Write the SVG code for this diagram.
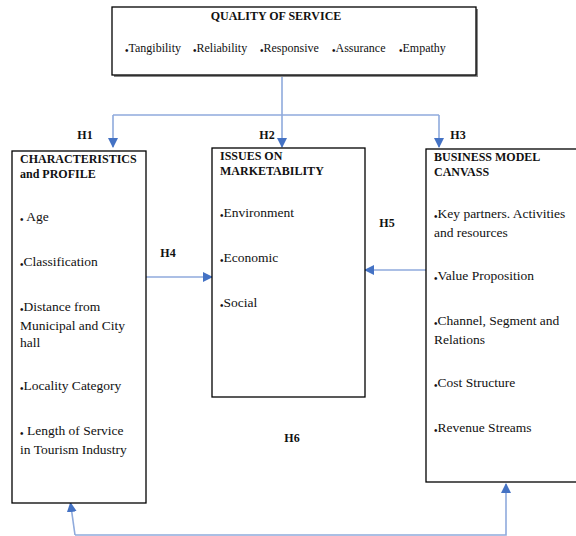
<svg xmlns="http://www.w3.org/2000/svg" width="576" height="536" viewBox="0 0 576 536">
<style>
.box{fill:#fff;stroke:#000;stroke-width:1.3}
.t{font-family:"Liberation Serif","Times New Roman",serif;font-size:13.5px;fill:#111}
.s{font-family:"Liberation Serif","Times New Roman",serif;font-size:12px;fill:#111}
.b{font-family:"Liberation Serif","Times New Roman",serif;font-size:12px;font-weight:bold;fill:#111}
.bu{font-size:10px;font-weight:bold}
.c{fill:none;stroke:#8FAADC;stroke-width:1.6}
</style>
<defs>
<marker id="ah" markerWidth="10" markerHeight="10" refX="9" refY="5" orient="auto" markerUnits="userSpaceOnUse">
<path d="M0,0 L10,5 L0,10 Z" fill="#4472C4"/>
</marker>
</defs>
<rect width="576" height="536" fill="#fff"/>
<g id="connectors">
<path class="c" d="M282,75 V115"/>
<path class="c" d="M113,115 H439"/>
<path class="c" d="M113,115 V147" marker-end="url(#ah)"/>
<path class="c" d="M282,115 V147" marker-end="url(#ah)"/>
<path class="c" d="M439,115 V147" marker-end="url(#ah)"/>
<path class="c" d="M146,277 H212" marker-end="url(#ah)"/>
<path class="c" d="M426,270 H365" marker-end="url(#ah)"/>
<path class="c" d="M75,535 L70.5,503" marker-end="url(#ah)"/>
<path class="c" d="M75,535 H506 V484" marker-end="url(#ah)"/>
</g>
<g id="quality">
<rect x="114" y="9" width="364" height="68" fill="#888"/>
<rect class="box" x="112" y="7" width="364" height="68"/>
<text class="b" x="276" y="20" text-anchor="middle">QUALITY OF SERVICE</text>
<text class="s" y="52"><tspan class="bu" x="125" dy="1.5">•</tspan><tspan dy="-1.5">Tangibility</tspan><tspan class="bu" x="193" dy="1.5">•</tspan><tspan dy="-1.5">Reliability</tspan><tspan class="bu" x="260" dy="1.5">•</tspan><tspan dy="-1.5">Responsive</tspan><tspan class="bu" x="332" dy="1.5">•</tspan><tspan dy="-1.5">Assurance</tspan><tspan class="bu" x="399" dy="1.5">•</tspan><tspan dy="-1.5">Empathy</tspan></text>
</g>
<g id="characteristics">
<rect class="box" x="12" y="151" width="134" height="352"/>
<text class="b" x="20" y="163">CHARACTERISTICS</text>
<text class="b" x="20" y="178">and PROFILE</text>
<text class="t" x="20" y="221"><tspan class="bu" dy="1.5">•</tspan><tspan dy="-1.5"> Age</tspan></text>
<text class="t" x="20" y="266"><tspan class="bu" dy="1.5">•</tspan><tspan dy="-1.5">Classification</tspan></text>
<text class="t" x="20" y="311"><tspan class="bu" dy="1.5">•</tspan><tspan dy="-1.5">Distance from</tspan></text>
<text class="t" x="20" y="330">Municipal and City</text>
<text class="t" x="20" y="347">hall</text>
<text class="t" x="20" y="390"><tspan class="bu" dy="1.5">•</tspan><tspan dy="-1.5">Locality Category</tspan></text>
<text class="t" x="20" y="435"><tspan class="bu" dy="1.5">•</tspan><tspan dy="-1.5">  Length of Service</tspan></text>
<text class="t" x="20" y="454">in Tourism Industry</text>
</g>
<g id="issues">
<rect class="box" x="212" y="148" width="153" height="249"/>
<text class="b" x="220" y="160">ISSUES ON</text>
<text class="b" x="220" y="175">MARKETABILITY</text>
<text class="t" x="220" y="217"><tspan class="bu" dy="1.5">•</tspan><tspan dy="-1.5">Environment</tspan></text>
<text class="t" x="220" y="262"><tspan class="bu" dy="1.5">•</tspan><tspan dy="-1.5">Economic</tspan></text>
<text class="t" x="220" y="307"><tspan class="bu" dy="1.5">•</tspan><tspan dy="-1.5">Social</tspan></text>
</g>
<g id="bmc">
<rect class="box" x="426" y="149" width="160" height="333"/>
<text class="b" x="434" y="161">BUSINESS MODEL</text>
<text class="b" x="434" y="176">CANVASS</text>
<text class="t" x="434" y="218"><tspan class="bu" dy="1.5">•</tspan><tspan dy="-1.5">Key partners. Activities</tspan></text>
<text class="t" x="434" y="237">and resources</text>
<text class="t" x="434" y="280"><tspan class="bu" dy="1.5">•</tspan><tspan dy="-1.5">Value Proposition</tspan></text>
<text class="t" x="434" y="325"><tspan class="bu" dy="1.5">•</tspan><tspan dy="-1.5">Channel, Segment and</tspan></text>
<text class="t" x="434" y="344">Relations</text>
<text class="t" x="434" y="387"><tspan class="bu" dy="1.5">•</tspan><tspan dy="-1.5">Cost Structure</tspan></text>
<text class="t" x="434" y="432"><tspan class="bu" dy="1.5">•</tspan><tspan dy="-1.5">Revenue Streams</tspan></text>
</g>
<g id="labels">
<text class="b" x="85" y="139" text-anchor="middle">H1</text>
<text class="b" x="267" y="139" text-anchor="middle">H2</text>
<text class="b" x="458" y="139" text-anchor="middle">H3</text>
<text class="b" x="168" y="257" text-anchor="middle">H4</text>
<text class="b" x="387" y="227" text-anchor="middle">H5</text>
<text class="b" x="292" y="442" text-anchor="middle">H6</text>
</g>
</svg>
